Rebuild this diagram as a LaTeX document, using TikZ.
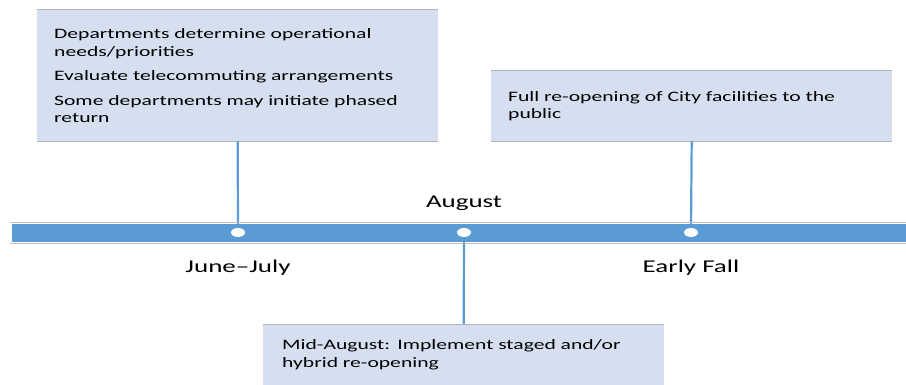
\documentclass[tikz,border=0pt]{standalone}
\usepackage{fontspec}
\setmainfont{Carlito}[FakeStretch=1.5]
\usetikzlibrary{shapes.geometric}
\usetikzlibrary{calc}
\definecolor{barblue}{RGB}{91,155,213}
\definecolor{boxfill}{RGB}{214,223,239}
\definecolor{rulegray}{RGB}{191,191,191}
\definecolor{edgegray}{RGB}{176,180,190}

\begin{document}
\begin{tikzpicture}[x=1pt, y=-1pt,
    eventbox/.style = {fill=boxfill, anchor=north west, inner xsep=17pt, inner ysep=0pt,
                       minimum width=401pt, text width=367pt, align=left,
                       font=\fontsize{14.4}{17.6}\selectfont},
    period/.style   = {font=\fontsize{18}{20}\selectfont, inner sep=0pt},
    stem/.style     = {barblue, line width=2.2pt},
    marker/.style   = {ellipse, fill=white, minimum width=14pt, minimum height=9pt, inner sep=0pt}]
            \useasboundingbox (0,0) rectangle (906,385);
            % event boxes
            \node[eventbox, minimum height=131pt] (early) at (37,10)
                {Departments determine operational\\needs/priorities\\[7pt]
                 Evaluate telecommuting arrangements\\[7pt]
                 Some departments may initiate phased\\return};
            \node[eventbox, minimum height=70pt] (fall) at (491,71)
                {Full re-opening of City facilities to the\\public};
            \node[eventbox, minimum height=61pt, inner xsep=19pt, text width=363pt] (mid) at (263,324)
                {Mid-August: Implement staged and/or\\hybrid re-opening};
            \foreach \b in {early, fall, mid} {
                \draw[edgegray, line width=1pt] (\b.north west) -- (\b.north east);
                \draw[edgegray, line width=1pt] (\b.south west) -- (\b.south east);
            }
            % timeline
            \coordinate (t1) at (238,232.5);
            \coordinate (t2) at (464,232.5);
            \coordinate (t3) at (691,232.5);
            \draw[stem] (early.south) -- (t1);
            \draw[stem] (fall.south) -- (t3);
            \draw[stem] (mid.north) -- (t2);
            \draw[rulegray, line width=1pt] (10,222.3) -- (906,222.3);
            \draw[rulegray, line width=1pt] (10,243.3) -- (906,243.3);
            \fill[barblue] (12,224) rectangle (906,242);
            \node[marker] (d1) at (t1) {};
            \node[marker] (d2) at (t2) {};
            \node[marker] (d3) at (t3) {};
            \node[period] (aug) at (464,203) {August};
            \node[period] (junjul) at (238,268) {June–July};
            \node[period] (efall) at (691,268) {Early Fall};
        \end{tikzpicture}
\end{document}
